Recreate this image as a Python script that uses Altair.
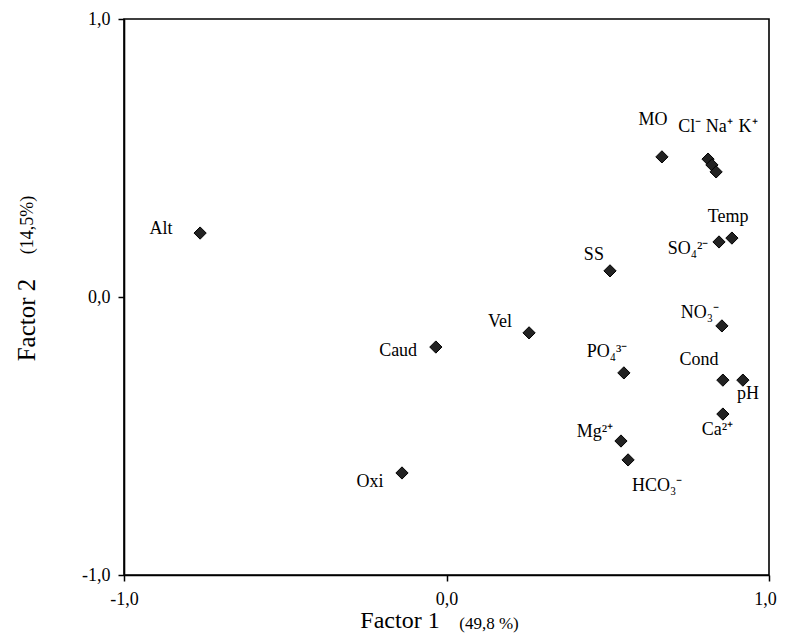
import altair as alt
import pandas as pd

# Variable names
names = ["Alt", "Caud", "Oxi", "Vel", "SS", "MO", "Cl⁻", "Na⁺", "K⁺", "Temp",
         "SO₄²⁻", "NO₃⁻", "PO₄³⁻", "Cond", "pH", "Ca²⁺", "Mg²⁺", "HCO₃⁻"]
# Loadings on Factor 1 and Factor 2
factor1 = [-0.764, -0.033, -0.138, 0.256, 0.507, 0.668, 0.811, 0.823, 0.836, 0.885,
           0.845, 0.854, 0.550, 0.857, 0.919, 0.857, 0.541, 0.563]
factor2 = [0.230, -0.180, -0.633, -0.129, 0.094, 0.504, 0.496, 0.475, 0.450, 0.212,
           0.198, -0.104, -0.273, -0.299, -0.299, -0.421, -0.518, -0.586]
# Label anchor positions (in factor units)
label_x = [-0.885, -0.150, -0.237, 0.166, 0.457, 0.640, 0.754, 0.846, 0.935, 0.873,
           0.749, 0.786, 0.498, 0.783, 0.935, 0.840, 0.460, 0.653]
label_y = [0.245, -0.194, -0.665, -0.090, 0.151, 0.637, 0.612, 0.612, 0.612, 0.288,
           0.173, -0.058, -0.198, -0.227, -0.349, -0.478, -0.486, -0.680]

ticks = [-1.0, 0.0, 1.0]

df = pd.DataFrame({"name": names, "f1": factor1, "f2": factor2,
                   "lx": label_x, "ly": label_y})

FONT = "Liberation Serif"
label_expr = "replace(replace(format(datum.value, '.1f'), '.', ','), '\u2212', '-')"

xscale = alt.Scale(domain=[-1, 1], nice=False, zero=False)
yscale = alt.Scale(domain=[-1, 1], nice=False, zero=False)

xaxis = alt.Axis(values=ticks, labelExpr=label_expr, title=None, grid=False,
                 domainColor="black", domainWidth=1.6, tickColor="black",
                 tickWidth=1.5, tickSize=6, labelFont=FONT, labelFontSize=18,
                 labelColor="black", labelPadding=9, labelFlush=False,
                 labelOffset={"condition": {"test": "datum.value == 1", "value": -4},
                              "value": 0})
yaxis = alt.Axis(values=ticks, labelExpr=label_expr, title=None, grid=False,
                 domainColor="black", domainWidth=1.6, tickColor="black",
                 tickWidth=1.5, tickSize=6, labelFont=FONT, labelFontSize=18,
                 labelColor="black", labelPadding=8, labelFlush=False)

base = alt.Chart(df)

points = base.mark_point(shape="diamond", filled=True, size=150, color="#222222",
                         stroke="black", strokeWidth=1, opacity=1).encode(
    x=alt.X("f1:Q", scale=xscale, axis=xaxis),
    y=alt.Y("f2:Q", scale=yscale, axis=yaxis),
)

labels = base.mark_text(font=FONT, fontSize=18, color="black", align="center",
                        baseline="middle").encode(
    x=alt.X("lx:Q", scale=xscale),
    y=alt.Y("ly:Q", scale=yscale),
    text="name:N",
)

title_df = pd.DataFrame({"t": [0]})
xt1 = alt.Chart(title_df).mark_text(font=FONT, fontSize=24, color="black",
                                    align="center", baseline="middle").encode(
    x=alt.value(276), y=alt.value(602), text=alt.value("Factor 1"))
xt2 = alt.Chart(title_df).mark_text(font=FONT, fontSize=17, color="black",
                                    align="center", baseline="middle").encode(
    x=alt.value(365), y=alt.value(605), text=alt.value("(49,8 %)"))
yt1 = alt.Chart(title_df).mark_text(font=FONT, fontSize=25, color="black",
                                    align="center", baseline="middle", angle=270).encode(
    x=alt.value(-97), y=alt.value(301), text=alt.value("Factor 2"))
yt2 = alt.Chart(title_df).mark_text(font=FONT, fontSize=18, color="black",
                                    align="center", baseline="middle", angle=270).encode(
    x=alt.value(-96), y=alt.value(206), text=alt.value("(14,5%)"))

chart = alt.layer(points, labels, xt1, xt2, yt1, yt2).properties(
    width=645, height=556,
    autosize=alt.AutoSizeParams(type="none"),
    padding={"left": 116, "top": 11, "right": 8, "bottom": 59},
    background="white",
).configure_view(stroke="black", strokeWidth=1.6)

chart.save("out.html", embed_options={"renderer": "svg", "actions": False})
